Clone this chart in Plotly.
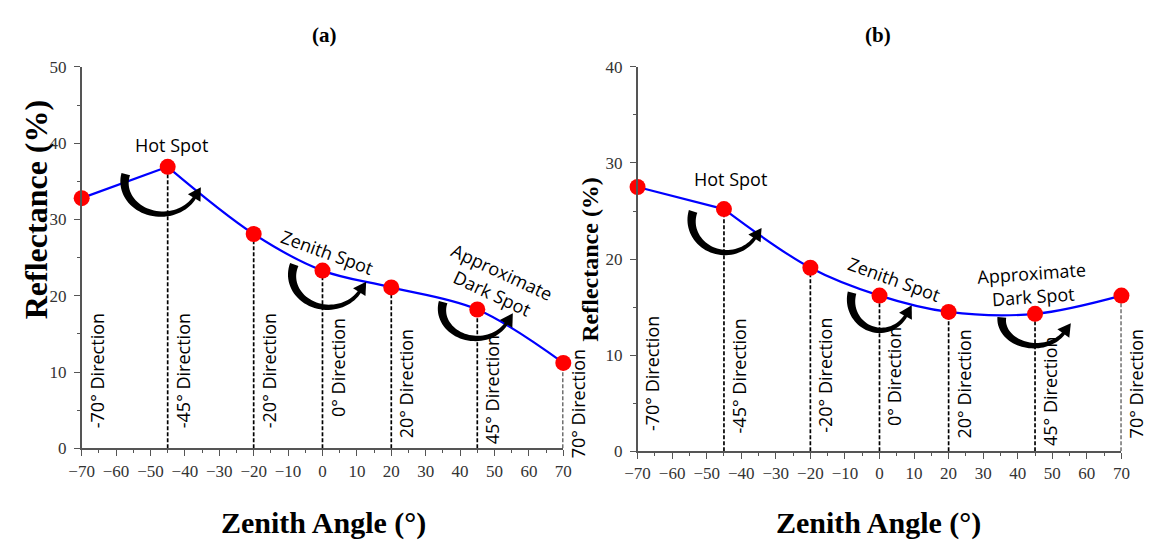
import math
import plotly.graph_objects as go

# ---- data -------------------------------------------------------------
angles = [-70, -45, -20, 0, 20, 45, 70]
refl_a = [32.8, 36.9, 28.1, 23.3, 21.1, 18.2, 11.2]
refl_b = [27.5, 25.2, 19.1, 16.2, 14.5, 14.3, 16.2]
direction_labels = ["-70° Direction", "-45° Direction", "-20° Direction",
                    "0° Direction", "20° Direction", "45° Direction",
                    "70° Direction"]
x_ticks = list(range(-70, 71, 10))
y_ticks_a = [0, 10, 20, 30, 40, 50]
y_ticks_b = [0, 10, 20, 30, 40]
spot_names = ["Hot Spot", "Zenith Spot", "Approximate<br>Dark Spot"]
spot_angles = [-45, 0, 45]

# ---- geometry / styling ----------------------------------------------
W, H = 1153, 543
SERIF = "Liberation Serif"
SANS = "Open Sans"

panels = [
    dict(name="(a)", vals=refl_a, yticks=y_ticks_a, xa="x", ya="y",
         px0=70, px1=561, pybot=455.3, pytop=60,
         # bottom-of-text pixel row for each direction label
         label_bottom=[437, 437, 437, 426, 447, 453, 467],
         # spot label centres (px) and rotation
         spot_text=[(162, 141, 0), (320, 252, 20), (494, 283, 25)],
         # arc: centre offset from point (px), radii, start/end angle
         arcs=[(-6, 16, 38, 33, 195, 28), (6, 5, 37, 33, 200, 30),
               (-1, 0, 35, 30, 195, 28)],
         ytitle=(23, 208), ytitle_size=32, xtitle=(317, 533), title=(318, 27)),
    dict(name="(b)", vals=refl_b, yticks=y_ticks_b, xa="x2", ya="y2",
         px0=636.7, px1=1130, pybot=458.3, pytop=60,
         label_bottom=[440, 442, 442, 435, 448, 455, 447],
         spot_text=[(731, 176, 0), (898, 280, 20), (1039, 285, -4)],
         arcs=[(2, 12, 35, 33, 197, 32), (1, 5, 30, 31, 195, 30),
               (0, 6, 34, 27, 185, 30)],
         ytitle=(588, 259), ytitle_size=24, xtitle=(882, 533), title=(882, 27)),
]

fig = go.Figure()
shapes = []
annotations = []


def arc_shapes(xv, yv, kx, ky, xa, ya, spec):
    """Tapered curved arrow drawn around a point, built in pixel offsets."""
    dx, dy, rx, ry, t0, t1 = spec
    w0, w1 = 9.0, 3.5
    n = 40
    outer, inner = [], []
    for i in range(n + 1):
        t = math.radians(t0 + (t1 - t0) * i / n)
        w = w0 + (w1 - w0) * i / n
        outer.append((dx + (rx + w / 2) * math.cos(t),
                      dy + (ry + w / 2) * math.sin(t)))
        inner.append((dx + (rx - w / 2) * math.cos(t),
                      dy + (ry - w / 2) * math.sin(t)))
    pts = outer + inner[::-1]

    def to_data(p):
        return xv + p[0] / kx, yv - p[1] / ky

    path = "M " + " L ".join("%.4f,%.4f" % to_data(q) for q in pts) + " Z"
    shapes.append(dict(type="path", path=path, xref=xa, yref=ya,
                       fillcolor="black", line=dict(width=0), layer="above"))
    # arrow head
    t = math.radians(t1)
    ex, ey = dx + rx * math.cos(t), dy + ry * math.sin(t)
    tx, ty = rx * math.sin(t), -ry * math.cos(t)
    L = math.hypot(tx, ty)
    tx, ty = tx / L, ty / L
    nx, ny = -ty, tx
    tip = (ex + tx * 12, ey + ty * 12)
    b1 = (ex - tx * 1 + nx * 7.5, ey - ty * 1 + ny * 7.5)
    b2 = (ex - tx * 1 - nx * 7.5, ey - ty * 1 - ny * 7.5)
    path = "M " + " L ".join("%.4f,%.4f" % to_data(q) for q in (tip, b1, b2)) + " Z"
    shapes.append(dict(type="path", path=path, xref=xa, yref=ya,
                       fillcolor="black", line=dict(width=0), layer="above"))


def paper_text(pos, text, size, family, angle=0):
    x, y = pos
    annotations.append(dict(x=x / W, y=1 - y / H, xref="paper", yref="paper",
                            text=text, showarrow=False, textangle=angle,
                            xanchor="center", yanchor="middle",
                            font=dict(family=family, size=size, color="black")))


for k, p in enumerate(panels):
    vals = p["vals"]
    ymax = p["yticks"][-1]
    kx = (p["px1"] - p["px0"]) / 140.0
    ky = (p["pybot"] - p["pytop"]) / ymax
    xa, ya = p["xa"], p["ya"]

    # curve: straight first leg, smooth afterwards
    fig.add_trace(go.Scatter(x=angles[:2], y=vals[:2], mode="lines",
                             line=dict(color="#0000ff", width=2.2),
                             xaxis=xa, yaxis=ya, cliponaxis=False,
                             showlegend=False, hoverinfo="skip"))
    fig.add_trace(go.Scatter(x=angles[1:], y=vals[1:], mode="lines",
                             line=dict(color="#0000ff", width=2.2,
                                       shape="spline", smoothing=1.0),
                             xaxis=xa, yaxis=ya, cliponaxis=False,
                             showlegend=False, hoverinfo="skip"))

    # dashed drop lines
    for a, v in zip(angles[1:], vals[1:]):
        shapes.append(dict(type="line", xref=xa, yref=ya, x0=a, x1=a,
                           y0=0, y1=v, layer="below",
                           line=dict(color="black", width=1.7, dash="4px,2px")))

    fig.add_trace(go.Scatter(x=angles, y=vals, mode="markers",
                             marker=dict(color="#ff0000", size=16),
                             xaxis=xa, yaxis=ya, cliponaxis=False,
                             showlegend=False))

    # direction labels
    for a, txt, bot in zip(angles, direction_labels, p["label_bottom"]):
        annotations.append(dict(x=a, y=0, xref=xa, yref=ya, text=txt,
                                textangle=-90, showarrow=False,
                                xanchor="center", yanchor="bottom",
                                xshift=15, yshift=p["pybot"] - bot,
                                font=dict(family=SANS, size=18, color="black")))

    # spot names and curved arrows
    for (sx, sy, rot), name, a, spec in zip(p["spot_text"], spot_names,
                                           spot_angles, p["arcs"]):
        paper_text((sx, sy), name, 18, SANS, rot)
        arc_shapes(a, vals[angles.index(a)], kx, ky, xa, ya, spec)

    # titles
    paper_text(p["title"], "<b>%s</b>" % p["name"], 21, SERIF)
    paper_text(p["xtitle"], "<b>Zenith Angle (°)</b>", 30, SERIF)
    paper_text(p["ytitle"], "<b>Reflectance (%)</b>", p["ytitle_size"],
               SERIF, -90)

    axis_common = dict(showline=True, linecolor="#555", linewidth=1.5,
                       ticks="outside", ticklen=6, tickwidth=1.3,
                       tickcolor="#555", showgrid=False, zeroline=False,
                       tickfont=dict(family=SERIF, size=17, color="#333"))
    xdom = [p["px0"] / W, p["px1"] / W]
    ydom = [1 - p["pybot"] / H, 1 - p["pytop"] / H]
    xkey = "xaxis" if xa == "x" else "xaxis2"
    ykey = "yaxis" if ya == "y" else "yaxis2"
    fig.update_layout({
        xkey: dict(axis_common, domain=xdom, range=[-70, 70],
                   tickvals=x_ticks, anchor=ya,
                   minor=dict(dtick=5, ticklen=3, ticks="outside",
                              tickcolor="#555")),
        ykey: dict(axis_common, domain=ydom, range=[0, ymax],
                   tickvals=p["yticks"], anchor=xa, ticklabelstandoff=4,
                   minor=dict(dtick=5, ticklen=3, ticks="outside",
                              tickcolor="#555")),
    })

fig.update_layout(width=W, height=H, margin=dict(l=0, r=0, t=0, b=0),
                  paper_bgcolor="white", plot_bgcolor="white",
                  shapes=shapes, annotations=annotations, showlegend=False)

fig.write_html("out.html")
